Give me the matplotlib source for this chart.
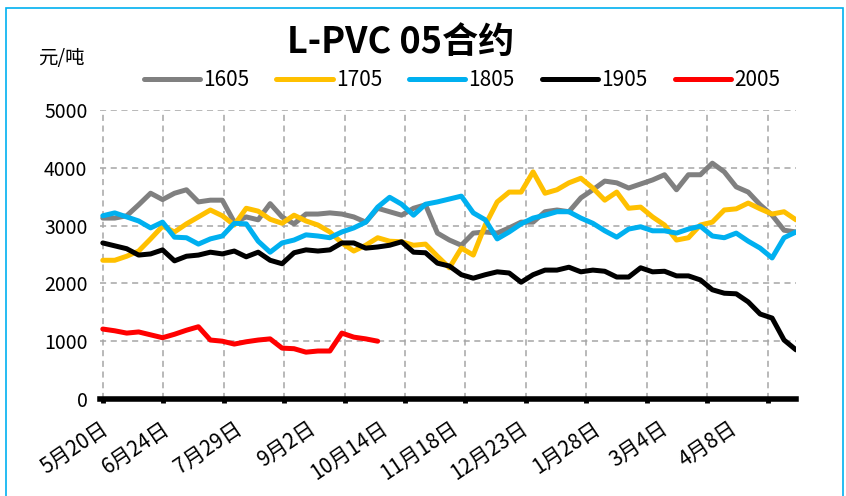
import numpy as np
import matplotlib
matplotlib.use("Agg")
import matplotlib.pyplot as plt
from matplotlib.patches import Rectangle

plt.rcParams['font.family'] = ['Liberation Sans Narrow', 'Noto Sans CJK SC', 'DejaVu Sans']

# Trading-day axis: 249 days from 5/20 to mid-May
n_days = 249
tick_labels = ["5月20日", "6月24日", "7月29日", "9月2日", "10月14日",
               "11月18日", "12月23日", "1月28日", "3月4日", "4月8日"]
label_days = [-1, 21, 47, 73, 99, 124, 149, 175, 199, 224]

# Prices (元/吨), sampled about every 4 trading days
c1605 = [3130, 3130, 3170, 3360, 3560, 3450, 3560, 3620, 3410, 3440,
         3440, 3060, 3150, 3100, 3380, 3150, 3030, 3200, 3200, 3220,
         3200, 3150, 3060, 3300, 3240, 3180, 3300, 3360, 2870, 2750,
         2660, 2870, 2890, 2870, 2960, 3060, 3060, 3240, 3270, 3240,
         3480, 3620, 3770, 3740, 3650, 3720, 3790, 3880, 3620, 3880,
         3880, 4080, 3930, 3670, 3580, 3360, 3180, 2920, 2890]
c1705 = [2400, 2400, 2470, 2560, 2770, 2990, 2890, 3030, 3150, 3270,
         3170, 3010, 3300, 3250, 3110, 3040, 3180, 3080, 3010, 2890,
         2700, 2560, 2660, 2790, 2730, 2720, 2660, 2680, 2470, 2270,
         2610, 2490, 3010, 3410, 3580, 3580, 3930, 3560, 3620, 3740,
         3820, 3650, 3440, 3580, 3300, 3320, 3150, 3010, 2750, 2790,
         3010, 3060, 3270, 3290, 3390, 3290, 3200, 3240, 3100]
c1805 = [3170, 3220, 3150, 3080, 2960, 3060, 2800, 2790, 2680, 2770,
         2820, 3040, 3030, 2730, 2540, 2700, 2750, 2840, 2820, 2790,
         2890, 2960, 3060, 3320, 3490, 3370, 3180, 3370, 3410, 3460,
         3510, 3220, 3100, 2770, 2890, 3030, 3130, 3180, 3240, 3240,
         3130, 3040, 2910, 2800, 2940, 2980, 2910, 2910, 2870, 2940,
         2990, 2820, 2790, 2870, 2730, 2610, 2440, 2790, 2890]
c1905 = [2700, 2650, 2600, 2490, 2510, 2580, 2390, 2470, 2490, 2540,
         2510, 2560, 2460, 2540, 2400, 2340, 2530, 2580, 2560, 2580,
         2700, 2700, 2610, 2630, 2660, 2720, 2540, 2530, 2350, 2300,
         2150, 2090, 2150, 2200, 2180, 2020, 2150, 2230, 2230, 2280,
         2200, 2230, 2210, 2110, 2110, 2270, 2200, 2210, 2130, 2130,
         2060, 1890, 1830, 1820, 1680, 1470, 1400, 1020, 850]
c2005 = [1210, 1180, 1140, 1160, 1110, 1060, 1120, 1190, 1250, 1020,
         1000, 950, 990, 1020, 1040, 880, 870, 810, 830, 830,
         1140, 1070, 1040, 1000]

series = [("1605", c1605, "#808080"), ("1705", c1705, "#FFC000"),
          ("1805", c1805, "#00B0F0"), ("1905", c1905, "#000000"),
          ("2005", c2005, "#FF0000")]

fig = plt.figure(figsize=(8.46, 4.96), dpi=100)
ax = fig.add_axes([0.1182, 0.1956, 0.8227, 0.5826])

x_all = np.linspace(0, n_days - 1, len(c1605))
for name, vals, col in series:
    ax.plot(x_all[:len(vals)], vals, color=col, lw=3.6, label=name,
            solid_joinstyle='round', solid_capstyle='round')

ax.set_xlim(0, n_days - 1)
ax.set_ylim(0, 5000)
ax.set_yticks(range(0, 5001, 1000))
ax.tick_params(axis='y', length=0, pad=9, labelsize=14)

# gridlines / tick marks and the date labels sit on different spacings
ax.xaxis.remove_overlapping_locs = False
grid_pos = np.arange(0, n_days, 21.62)
ax.set_xticks(grid_pos)
ax.set_xticklabels([])
ax.tick_params(axis='x', which='major', direction='out', length=3, width=3.5, color='black')
ax.set_xticks(label_days, minor=True)
ax.set_xticklabels(tick_labels, minor=True, rotation=34, ha='right', va='top',
                   rotation_mode='anchor', fontsize=15)
ax.tick_params(axis='x', which='minor', length=0, pad=13)

ax.grid(True, which='major', color='#A6A6A6', linestyle=(0, (4, 3)), lw=1.1)
ax.set_axisbelow(True)
for s in ['top', 'right', 'left']:
    ax.spines[s].set_visible(False)
ax.spines['bottom'].set_linewidth(4)
ax.spines['bottom'].set_color('black')
ax.spines['bottom'].set_zorder(5)

fig.text(0.473, 0.915, "L-PVC 05合约", ha='center', va='center',
         fontsize=26, fontweight='bold')
fig.text(0.073, 0.883, "元/吨", ha='center', va='center', fontsize=14)

fig.legend(loc='center', bbox_to_anchor=(0.546, 0.839), ncol=5, frameon=False,
           fontsize=15, handlelength=2.7, handletextpad=0.15, columnspacing=1.3)

fig.patches.append(Rectangle((0.007, -0.01), 0.989, 0.994, transform=fig.transFigure,
                             fill=False, edgecolor='#00B0F0', lw=1.2))

fig.savefig("out.png", dpi=100)
